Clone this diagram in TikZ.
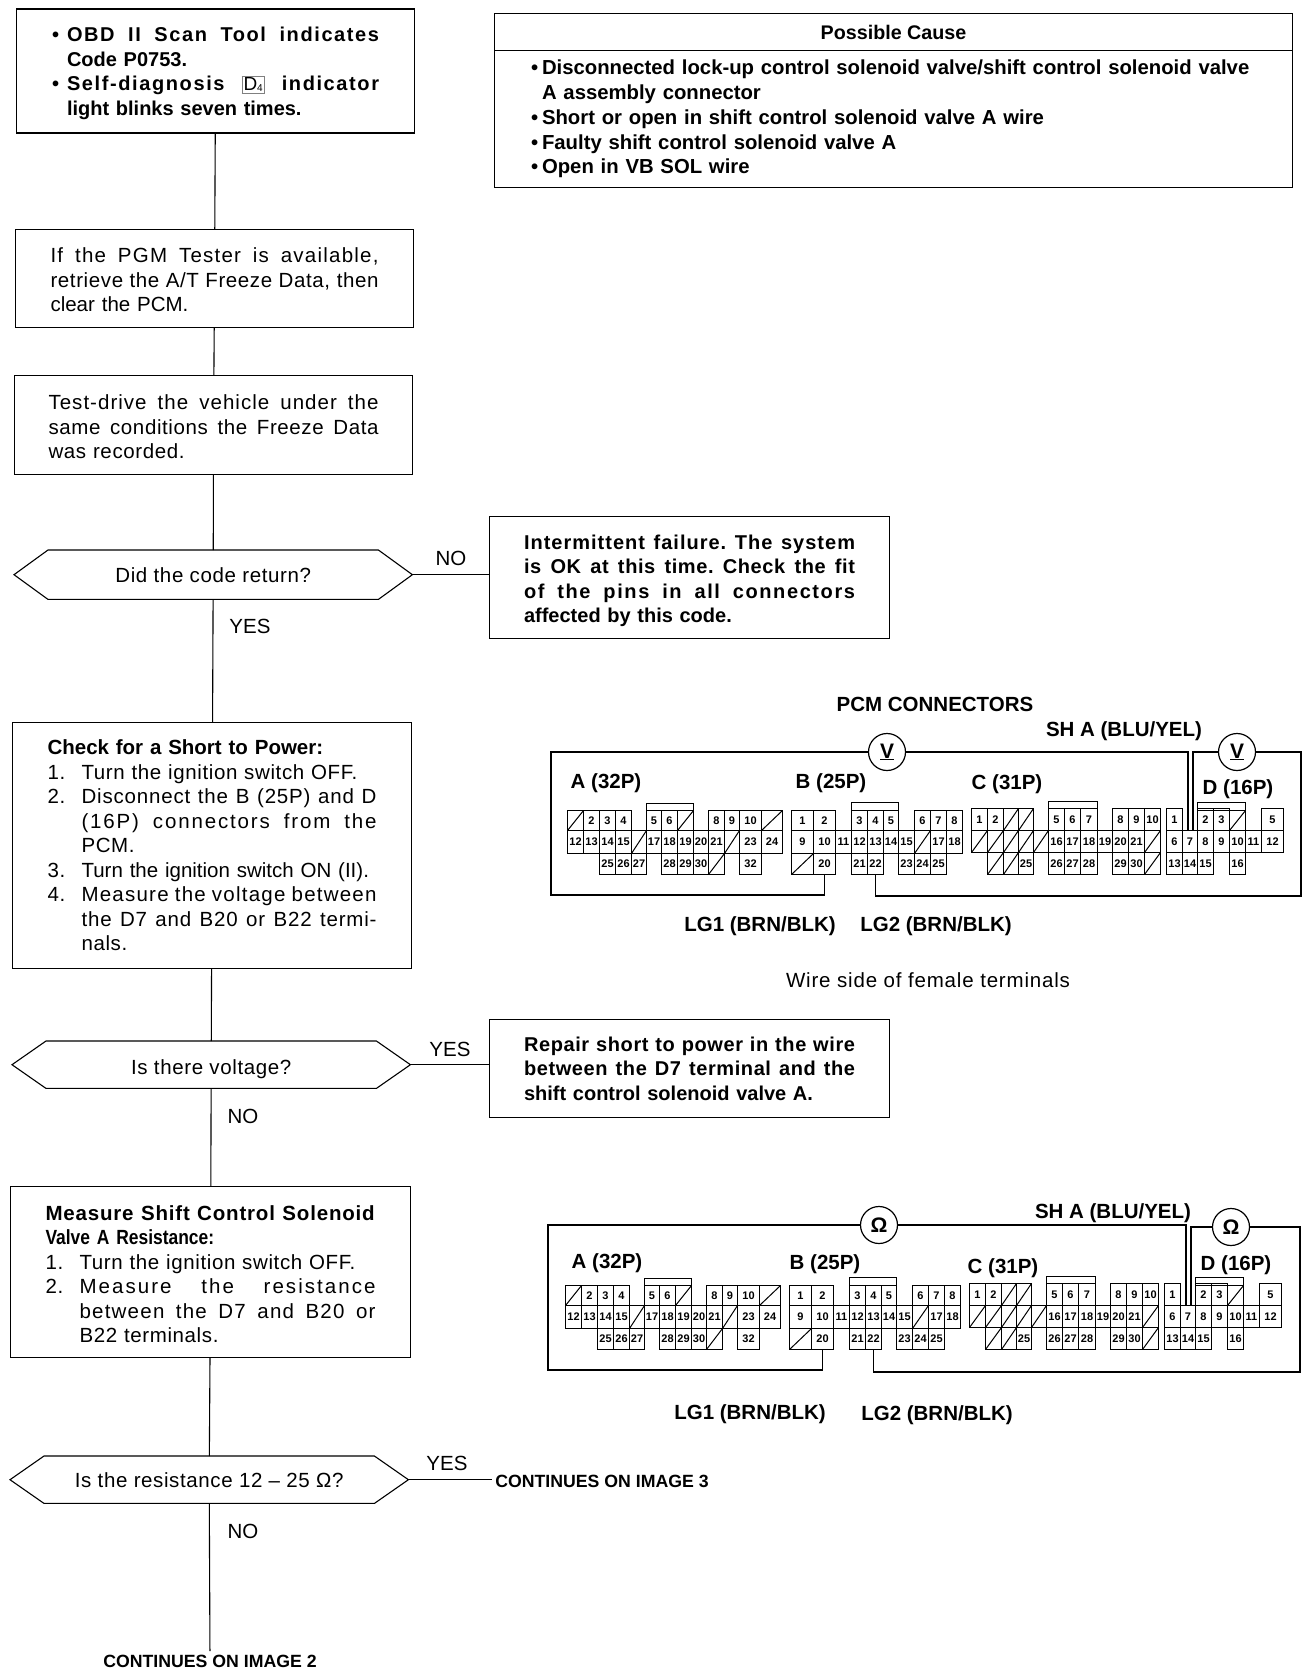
\documentclass[tikz,border=0pt]{standalone}
\usepackage{fontspec}
\setmainfont{Liberation Sans}
\newcommand{\fitline}[3][3]{\makebox[#2pt][s]{\addfontfeature{LetterSpace=#1}\spaceskip=.278em plus 1em\xspaceskip=\spaceskip #3}}
\newcommand{\tight}[1]{{\addfontfeature{LetterSpace=0}#1}}
\newcommand{\lift}[1]{\rule{0pt}{#1pt}}
\newcommand{\bul}{\makebox[15pt][l]{•}}
\newcommand{\ind}{\hspace*{15pt}}
\newcommand{\numb}[1]{\makebox[34pt][l]{#1}}
\newcommand{\dfour}{{\setlength{\fboxsep}{1.5pt}\setlength{\fboxrule}{0.4pt}\fcolorbox{gray}{white}{\mdseries\addfontfeature{LetterSpace=0}\fontsize{19}{19}\selectfont D\raisebox{-1pt}{\fontsize{10}{10}\selectfont 4}}}}
\newcommand{\hexframe}[1]{\draw [flowline] (#1.west) -- ([xshift=34]#1.north west) -- ([xshift=-34]#1.north east) -- (#1.east)
    -- ([xshift=-34]#1.south east) -- ([xshift=34]#1.south west) -- cycle;}
\tikzset{flowbox/.style = {draw, line width=1.1pt, anchor=north west, align=left, inner sep=0pt,
                           font=\fontsize{20.5}{24.5}\selectfont\addfontfeature{LetterSpace=3}},
         boldbox/.style = {flowbox, font=\fontsize{20}{24.5}\selectfont\bfseries},
         hexbox/.style = {anchor=north west, inner sep=0pt, minimum width=398,
                          font=\fontsize{20.5}{24.5}\selectfont\addfontfeature{LetterSpace=3}},
         answer/.style = {font=\fontsize{20.5}{22}\selectfont},
         conlabel/.style = {font=\fontsize{20.5}{22}\selectfont\bfseries},
         contlabel/.style = {font=\fontsize{17.7}{20}\selectfont\bfseries},
         flowline/.style = {line width=1.1pt},
         wire/.style = {line width=1.6pt},
         pincell/.style = {draw, line width=1pt, anchor=north west, inner sep=0pt,
                           font=\fontsize{11}{11}\selectfont\bfseries},
         slashcell/.style = {pincell, path picture={\draw [line width=1pt]
                             (path picture bounding box.south west) -- (path picture bounding box.north east);}},
         meter/.style = {draw, circle, line width=1.2pt, inner sep=0pt, minimum size=37pt,
                         font=\fontsize{21}{21}\selectfont\bfseries}}
\newcommand{\pinrow}[4]{\foreach \x/\w/\lab in {#4} {
    \node [pincell, minimum width=\w, minimum height=#3] (#1\lab) at (\x, #2) {\lab};}}
\newcommand{\slashrow}[4]{\foreach \x/\w in {#4} {
    \node [slashcell, minimum width=\w, minimum height=#3] (#1s\x-#2) at (\x, #2) {};}}
\newcommand{\pcmpins}[1]{
    \node [pincell, minimum width=47, minimum height=7] (#1acap) at (646, 803) {};
    \pinrow{#1a}{810}{20}{583/16/2,599/16/3,615/16/4,646/15/5,661/16/6,708/16/8,724/15/9,739/22/10}
    \slashrow{#1a}{810}{20}{567/16,677/16,761/21}
    \pinrow{#1a}{830}{23}{567/16/12,583/16/13,599/16/14,615/16/15,646/15/17,661/16/18,677/16/19,693/15/20,708/16/21,739/22/23,761/21/24}
    \slashrow{#1a}{830}{23}{631/15,724/15}
    \pinrow{#1a}{853}{21}{599/16/25,615/16/26,631/15/27,661/16/28,677/16/29,693/15/30,739/22/32}
    \slashrow{#1a}{853}{21}{708/16}
    \node [pincell, minimum width=47, minimum height=8] (#1bcap) at (851, 802) {};
    \pinrow{#1b}{810}{20}{791/22/1,813/22/2,851/16/3,867/16/4,883/15/5,914/16/6,930/16/7,946/16/8}
    \pinrow{#1b}{830}{23}{791/22/9,813/22/10,835/16/11,851/16/12,867/16/13,883/15/14,898/16/15,930/16/17,946/16/18}
    \slashrow{#1b}{830}{23}{914/16}
    \pinrow{#1b}{853}{21}{813/22/20,851/16/21,867/16/22,898/16/23,914/16/24,930/16/25}
    \slashrow{#1b}{853}{21}{791/22}
    \node [pincell, minimum width=49, minimum height=7] (#1ccap) at (1048, 801) {};
    \pinrow{#1c}{808}{22}{971/16/1,987/16/2,1048/16/5,1064/16/6,1080/17/7,1112/16/8,1128/16/9,1144/16/10}
    \slashrow{#1c}{808}{22}{1003/15,1018/15}
    \pinrow{#1c}{830}{22}{1048/16/16,1064/16/17,1080/17/18,1097/15/19,1112/16/20,1128/16/21}
    \slashrow{#1c}{830}{22}{971/16,987/16,1003/15,1018/15,1033/15,1144/16}
    \pinrow{#1c}{852}{22}{1018/15/25,1048/16/26,1064/16/27,1080/17/28,1112/16/29,1128/16/30}
    \slashrow{#1c}{852}{22}{987/16,1003/15,1144/16}
    \node [pincell, minimum width=48, minimum height=8] (#1dcap) at (1197, 802) {};
    \pinrow{#1d}{808}{22}{1166/16/1,1197/16/2,1213/16/3,1261/22/5}
    \slashrow{#1d}{810}{20}{1229/16}
    \pinrow{#1d}{830}{22}{1166/16/6,1182/15/7,1197/16/8,1213/16/9,1229/16/10,1245/16/11,1261/22/12}
    \pinrow{#1d}{852}{22}{1166/16/13,1182/15/14,1197/16/15,1229/16/16}
}
\begin{document}
\begin{tikzpicture}[x=1pt, y=-1pt]
    \useasboundingbox (0, 0) rectangle (1312, 1672);

    \node [boldbox, minimum width=398, minimum height=124, text width=327] (scan) at (16, 8.5)
        {\lift{19}\bul\fitline[8]{312}{OBD II Scan Tool indicates}\\ \ind Code P0753.\\
         \bul\fitline[8]{312}{Self-diagnosis \dfour{} indicator}\\ \ind light blinks seven times.};
    \node [flowbox, minimum width=398, minimum height=98, text width=328] (tester) at (15, 229)
        {\lift{18}\fitline[6]{328}{If the PGM Tester is available,}\\ \fitline{328}{retrieve the A/T Freeze Data, then}\\ \tight{clear the PCM.}};
    \node [flowbox, minimum width=398, minimum height=99, text width=330] (drive) at (14, 375)
        {\lift{19}\fitline[5]{330}{Test-drive the vehicle under the}\\ \fitline{330}{same conditions the Freeze Data}\\ was recorded.};
    \node [hexbox, minimum height=49] (codeback) at (14, 550) {Did the code return?};
    \hexframe{codeback}
    \node [boldbox, minimum width=400, minimum height=122, text width=331] (failure) at (489, 516)
        {\lift{21}\fitline[5]{331}{Intermittent failure. The system}\\ \fitline{331}{is OK at this time. Check the fit}\\
         \fitline[8]{331}{of the pins in all connectors}\\ affected by this code.};
    \node [flowbox, minimum width=399, minimum height=246, text width=329] (shortcheck) at (12, 722)
        {\tight{\textbf{Check for a Short to Power:}}\\
         \numb{1.}Turn the ignition switch OFF.\\
         \numb{2.}\fitline[4]{295}{Disconnect the B (25P) and D}\\
         \numb{}\fitline[9]{295}{(16P) connectors from the}\\
         \numb{}PCM.\\
         \numb{3.}\tight{Turn the ignition switch ON (II).}\\
         \numb{4.}\fitline[6]{295}{Measure the voltage between}\\
         \numb{}\fitline[4]{295}{the D7 and B20 or B22 termi-}\\
         \numb{}nals.};
    \node [hexbox, minimum height=47, text depth=-1] (voltage) at (12, 1041) {\lift{20}Is there voltage?};
    \hexframe{voltage}
    \node [boldbox, minimum width=400, minimum height=98, text width=331] (repair) at (489, 1019)
        {\fitline{331}{Repair short to power in the wire}\\ \fitline{331}{between the D7 terminal and the}\\ shift control solenoid valve A.};
    \node [flowbox, minimum width=400, minimum height=171, text width=330] (resist) at (10, 1186)
        {\lift{19}\fitline[4]{330}{\textbf{Measure Shift Control Solenoid}}\\
         {\addfontfeature{LetterSpace=0,FakeStretch=0.85}\textbf{Valve A Resistance:}}\\
         \numb{1.}Turn the ignition switch OFF.\\
         \numb{2.}\fitline[10]{296}{Measure the resistance}\\
         \numb{}\fitline[6]{296}{between the D7 and B20 or}\\
         \numb{}B22 terminals.};
    \node [hexbox, minimum height=47] (ohms) at (10, 1456) {Is the resistance 12 – 25 Ω?};
    \hexframe{ohms}

    \node [answer] (noa) at (451, 558) {NO};
    \node [answer] (yesa) at (250, 626) {YES};
    \node [answer] (yesb) at (450, 1049) {YES};
    \node [answer] (nob) at (243, 1116) {NO};
    \node [answer] (yesc) at (447, 1463) {YES};
    \node [answer] (noc) at (243, 1531) {NO};
    \node [contlabel] (imagethree) at (602, 1481) {CONTINUES ON IMAGE 3};
    \node [contlabel] (imagetwo) at (210, 1661) {CONTINUES ON IMAGE 2};

    \draw [flowline] (scan) -- (tester);
    \draw [flowline] (tester) -- (drive);
    \draw [flowline] (drive) -- (codeback);
    \draw [flowline] (codeback) -- (shortcheck);
    \draw [flowline] (shortcheck) -- (voltage);
    \draw [flowline] (voltage) -- (resist);
    \draw [flowline] (resist) -- (ohms);
    \draw [flowline] (ohms) -- (imagetwo);
    \draw [flowline] (codeback.east) -- (failure.west |- codeback.east);
    \draw [flowline] (voltage.east) -- (repair.west |- voltage.east);
    \draw [flowline] (ohms.east) -- (imagethree.west |- ohms.east);

    \node [flowbox, minimum width=798, minimum height=37, align=center, font=\fontsize{19.7}{24.5}\selectfont\bfseries] (causetitle) at (494, 13) {Possible Cause};
    \node [boldbox, minimum width=798, minimum height=137, text width=725, font=\fontsize{20.3}{24.8}\selectfont\bfseries] (causelist) at (494, 50)
        {\makebox[11pt][l]{•}Disconnected lock-up control solenoid valve/shift control solenoid valve\\
         \hspace*{11pt}A assembly connector\\
         \makebox[11pt][l]{•}Short or open in shift control solenoid valve A wire\\
         \makebox[11pt][l]{•}Faulty shift control solenoid valve A\\
         \makebox[11pt][l]{•}Open in VB SOL wire};

    \pcmpins{v}
    \node [conlabel] (vtitle) at (935, 704) {PCM CONNECTORS};
    \node [conlabel] (vsha) at (1124, 731) {SH A (BLU/YEL)};
    \node [conlabel] (vlaba) at (606, 783) {A (32P)};
    \node [conlabel] (vlabb) at (831, 783) {B (25P)};
    \node [conlabel] (vlabc) at (1007, 784) {C (31P)};
    \node [conlabel] (vlabd) at (1238, 789) {D (16P)};
    \node [conlabel] (vlgone) at (760, 926) {LG1 (BRN/BLK)};
    \node [conlabel] (vlgtwo) at (936, 926) {LG2 (BRN/BLK)};
    \node [answer, font=\fontsize{20.5}{22}\selectfont\addfontfeature{LetterSpace=4}] (wireside) at (928, 980) {Wire side of female terminals};
    \node [meter] (vmeterb) at (887, 752) {\underline{V}};
    \node [meter] (vmeterd) at (1237, 752) {\underline{V}};
    \coordinate (vleft) at (551, 895);
    \coordinate (vright) at (1301, 896);
    \draw [wire] (vb20.south) |- (vleft) |- (vmeterb.west);
    \draw [wire] (vmeterb.east) -| ([xshift=-2]vd7.north);
    \draw [wire] ([xshift=3]vd7.north) |- (vmeterd.west);
    \draw [wire] (vmeterd.east) -| (vright) -| (vb22.south);

    \begin{scope}[shift={(-2, 475)}]
        \pcmpins{o}
    \end{scope}
    \node [conlabel] (osha) at (1113, 1213) {SH A (BLU/YEL)};
    \node [conlabel] (olaba) at (607, 1263) {A (32P)};
    \node [conlabel] (olabb) at (825, 1264) {B (25P)};
    \node [conlabel] (olabc) at (1003, 1268) {C (31P)};
    \node [conlabel] (olabd) at (1236, 1265) {D (16P)};
    \node [conlabel] (olgone) at (750, 1414) {LG1 (BRN/BLK)};
    \node [conlabel] (olgtwo) at (937, 1415) {LG2 (BRN/BLK)};
    \node [meter] (ometerb) at (879, 1225) {Ω};
    \node [meter] (ometerd) at (1231, 1227) {Ω};
    \coordinate (oleft) at (548, 1370);
    \coordinate (oright) at (1300, 1372);
    \draw [wire] (ob20.south) |- (oleft) |- (ometerb.west);
    \draw [wire] (ometerb.east) -| ([xshift=-2]od7.north);
    \draw [wire] ([xshift=3]od7.north) |- (ometerd.west);
    \draw [wire] (ometerd.east) -| (oright) -| (ob22.south);
\end{tikzpicture}
\end{document}
